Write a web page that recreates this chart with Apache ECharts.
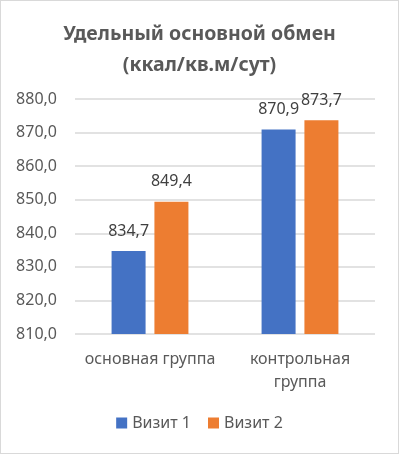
<!DOCTYPE html>
<html><head><meta charset="utf-8">
<script src="https://cdn.jsdelivr.net/npm/echarts@6/dist/echarts.min.js"></script>
<style>
html,body{margin:0;padding:0;background:#fff;}
#wrap{width:399px;height:454px;box-sizing:border-box;border:1px solid #d9d9d9;position:relative;}
#c{position:absolute;left:-1px;top:-1px;width:399px;height:454px;}
</style></head>
<body><div id="wrap"><div id="c"></div></div>
<script>
const titleText = "Удельный основной обмен\n(ккал/кв.м/сут)";
const categories = ["основная группа", "контрольная группа"];
const seriesNames = ["Визит 1", "Визит 2"];
const visit1 = [834.7, 870.9];
const visit2 = [849.4, 873.7];
const yMin = 810, yMax = 880, yStep = 10;

const fmt = v => v.toFixed(1).replace('.', ',');
// wrap long category names at their last space (Excel-style wrapping)
const wrapCat = s => s.length > 16 ? s.replace(/ (?=[^ ]*$)/, '\n') : s;
const FONT = "'Noto Sans', sans-serif";
const chart = echarts.init(document.getElementById('c'), null, {renderer: 'canvas'});
const labelCfg = {show: true, position: 'top', distance: 12, color: '#404040', fontFamily: FONT, fontSize: 16,
  formatter: p => fmt(p.value)};
chart.setOption({
  animation: false,
  title: {text: titleText, left: 'center', top: 14,
    textStyle: {fontFamily: FONT, fontWeight: 'bold', fontSize: 19.5, color: '#595959', lineHeight: 31}},
  legend: {data: seriesNames, bottom: 18, left: 'center', itemWidth: 11, itemHeight: 11, itemGap: 17,
    icon: 'rect', textStyle: {fontFamily: FONT, fontSize: 16, color: '#595959'}},
  grid: {left: 75, right: 24, top: 99, bottom: 120, containLabel: false},
  xAxis: {type: 'category', data: categories,
    axisLine: {show: false}, axisTick: {show: false},
    axisLabel: {fontFamily: FONT, fontSize: 16, color: '#595959', margin: 14, lineHeight: 23,
      interval: 0, formatter: wrapCat}},
  yAxis: {type: 'value', min: yMin, max: yMax, interval: yStep,
    axisLine: {show: false}, axisTick: {show: false},
    axisLabel: {fontFamily: FONT, fontSize: 16, color: '#595959', margin: 18, formatter: v => fmt(v)},
    splitLine: {lineStyle: {color: '#d9d9d9', width: 1.5}}},
  series: [
    {name: seriesNames[0], type: 'bar', data: visit1, barWidth: 34, barGap: '26%',
      itemStyle: {color: '#4472C4'}, label: labelCfg},
    {name: seriesNames[1], type: 'bar', data: visit2, barWidth: 34,
      itemStyle: {color: '#ED7D31'}, label: labelCfg}
  ]
});
</script></body></html>
